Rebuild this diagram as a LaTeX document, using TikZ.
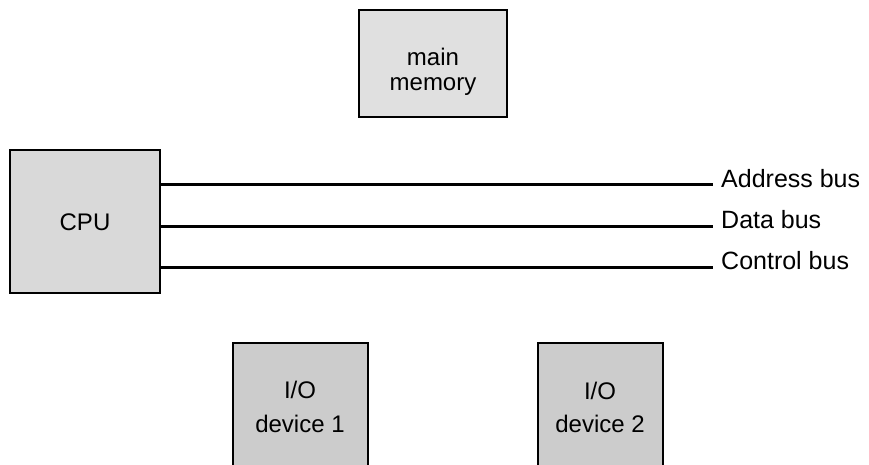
\documentclass[tikz,border=0pt]{standalone}
\usepackage{fontspec}
\setmainfont{Liberation Sans}
\begin{document}
\begin{tikzpicture}[x=1pt,y=-1pt,
  box/.style={draw=black, line width=1.5pt, fill=#1, inner sep=0pt},
  txt/.style={font=\fontsize{24}{28}\selectfont, inner sep=0pt},
  lbl/.style={font=\fontsize{25}{30}\selectfont, inner sep=0pt, anchor=base west},
  bus/.style={line width=3pt, line cap=butt}]
\useasboundingbox (0,0) rectangle (869,464);
\clip (0,0) rectangle (869,464);
% boxes
\node[box=gray!24, minimum width=148pt, minimum height=107pt] (mem) at (433,63.5) {};
\node[box=gray!30, minimum width=150pt, minimum height=143pt] (cpu) at (85,221.5) {};
\node[box=gray!40, minimum width=135pt, minimum height=137pt] (io1) at (300.5,411.5) {};
\node[box=gray!40, minimum width=125pt, minimum height=137pt] (io2) at (600.5,411.5) {};
% box texts
\node[txt, anchor=base] (memA) at (433,65) {main};
\node[txt, anchor=base] (memB) at (433,90) {memory};
\node[txt, anchor=base] (cpuT) at (85,230) {CPU};
\node[txt, anchor=base] (io1A) at (300,398) {I/O};
\node[txt, anchor=base] (io1B) at (300,432) {device 1};
\node[txt, anchor=base] (io2A) at (600,399) {I/O};
\node[txt, anchor=base] (io2B) at (600,432) {device 2};
% bus ends and labels
\coordinate (aEnd) at (713,184.5);
\coordinate (dEnd) at (713,226.5);
\coordinate (cEnd) at (713,267.5);
\node[lbl] (addr) at (721,187) {Address bus};
\node[lbl] (data) at (721,228) {Data bus};
\node[lbl] (ctrl) at (721,269) {Control bus};
\draw[bus] (cpu.east |- aEnd) -- (aEnd);
\draw[bus] (cpu.east |- dEnd) -- (dEnd);
\draw[bus] (cpu.east |- cEnd) -- (cEnd);
\end{tikzpicture}
\end{document}
